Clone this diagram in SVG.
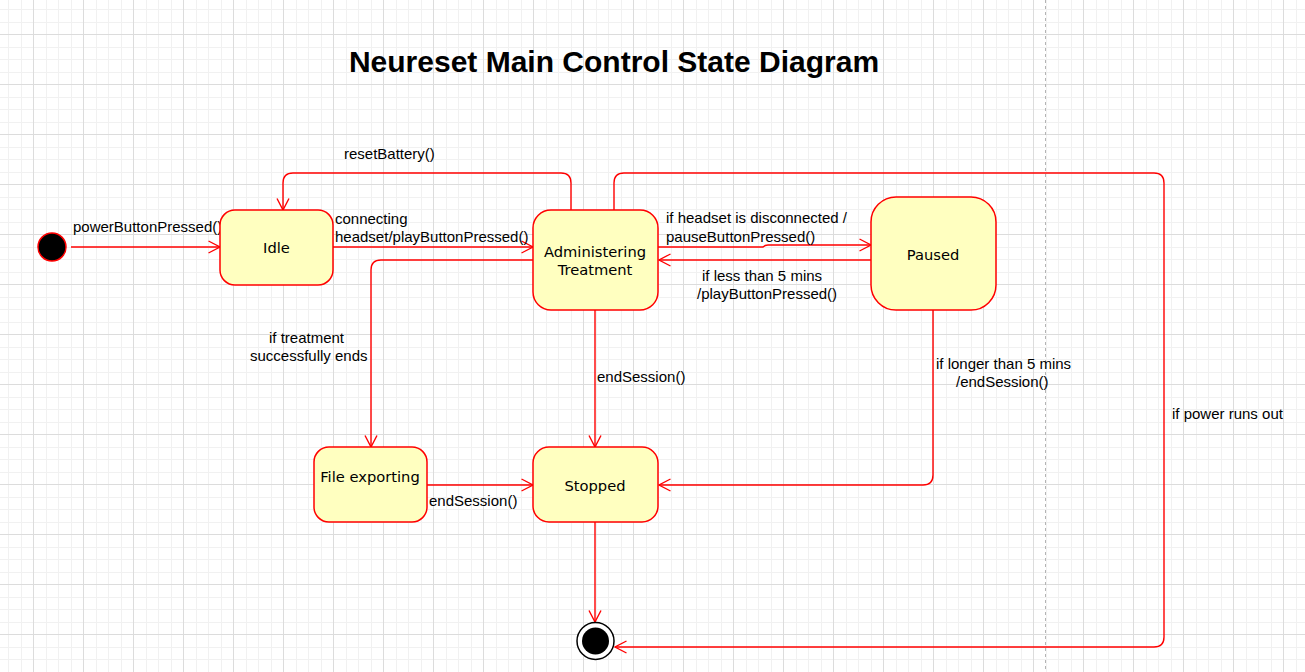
<svg xmlns="http://www.w3.org/2000/svg" width="1305" height="672" viewBox="0 0 1305 672">
<defs>
<pattern id="grid" x="33" y="34" width="50" height="50" patternUnits="userSpaceOnUse">
<rect x="13" y="0" width="1" height="50" fill="#f1f1f1"/>
<rect x="25" y="0" width="1" height="50" fill="#f1f1f1"/>
<rect x="38" y="0" width="1" height="50" fill="#f1f1f1"/>
<rect x="0" y="13" width="50" height="1" fill="#f1f1f1"/>
<rect x="0" y="25" width="50" height="1" fill="#f1f1f1"/>
<rect x="0" y="38" width="50" height="1" fill="#f1f1f1"/>
<rect x="0" y="0" width="1" height="50" fill="#dcdcdc"/>
<rect x="0" y="0" width="50" height="1" fill="#dcdcdc"/>
</pattern>
<marker id="open" markerUnits="userSpaceOnUse" markerWidth="14" markerHeight="14" viewBox="0 0 14 14" refX="12.5" refY="7" orient="auto">
<path d="M1,1 L12.5,7 L1,13" fill="none" stroke="#ff0000" stroke-width="1.4"/>
</marker>
</defs>
<style>
.state{fill:#ffffc0;stroke:#ff0000;stroke-width:1.5}
.sl{font-family:"DejaVu Sans",Verdana,sans-serif;font-size:14.7px;fill:#000;text-anchor:middle}
.el{font-family:"Liberation Sans",Arial,sans-serif;font-size:15px;fill:#000}
.edge{fill:none;stroke:#ff0000;stroke-width:1.4;marker-end:url(#open)}
</style>
<rect width="1305" height="672" fill="#ffffff"/>
<rect width="1305" height="672" fill="url(#grid)"/>
<line x1="1045.5" y1="0" x2="1045.5" y2="672" stroke="#b4b4b4" stroke-width="1" stroke-dasharray="3 3"/>
<text x="614" y="72" font-family="'Liberation Sans',Arial,sans-serif" font-size="30" font-weight="bold" text-anchor="middle" fill="#000">Neureset Main Control State Diagram</text>
<g id="connectors">
<path class="edge" d="M71,247 H220"/>
<path class="edge" d="M333,247 H533"/>
<path class="edge" d="M571,210 V183 Q571,173 561,173 H293 Q283,173 283,183 V210"/>
<path class="edge" d="M614,210 V183 Q614,173 624,173 H1154 Q1164,173 1164,183 V637 Q1164,647 1154,647 H615"/>
<path class="edge" d="M658,247 H763 Q765,245 768,245 H871"/>
<path class="edge" d="M878,260 H659"/>
<path class="edge" d="M533,260 H381 Q371,260 371,270 V447"/>
<path class="edge" d="M595,310 V447"/>
<path class="edge" d="M933,310 V475 Q933,485 923,485 H659"/>
<path class="edge" d="M427,485 H533"/>
<path class="edge" d="M595,522 V622"/>
<text class="el" x="73" y="232">powerButtonPressed()</text>
<text class="el" x="335" y="224">connecting</text>
<text class="el" x="335" y="242">headset/playButtonPressed()</text>
<text class="el" x="344" y="159">resetBattery()</text>
<text class="el" x="666" y="223">if headset is disconnected /</text>
<text class="el" x="666" y="242">pauseButtonPressed()</text>
<text class="el" x="702" y="281">if less than 5 mins</text>
<text class="el" x="697" y="299">/playButtonPressed()</text>
<text class="el" x="269" y="343">if treatment</text>
<text class="el" x="250" y="361">successfully ends</text>
<text class="el" x="597" y="382">endSession()</text>
<text class="el" x="936" y="369">if longer than 5 mins</text>
<text class="el" x="956" y="387">/endSession()</text>
<text class="el" x="1172" y="419">if power runs out</text>
<text class="el" x="429" y="506">endSession()</text>
</g>
<g id="initial">
<circle cx="52" cy="247" r="14" fill="#000" stroke="#ff0000" stroke-width="1.5"/>
</g>
<g id="idle">
<rect class="state" x="220" y="210" width="113" height="75" rx="15"/>
<text class="sl" x="276.5" y="253">Idle</text>
</g>
<g id="administering">
<rect class="state" x="533" y="210" width="125" height="100" rx="18"/>
<text class="sl" x="595" y="257">Administering</text>
<text class="sl" x="595" y="274.5">Treatment</text>
</g>
<g id="paused">
<rect class="state" x="871" y="197" width="125" height="113" rx="25"/>
<text class="sl" x="933" y="260">Paused</text>
</g>
<g id="file-exporting">
<rect class="state" x="314" y="447" width="113" height="75" rx="15"/>
<text class="sl" x="370" y="482">File exporting</text>
</g>
<g id="stopped">
<rect class="state" x="533" y="447" width="125" height="75" rx="16"/>
<text class="sl" x="595" y="491">Stopped</text>
</g>
<g id="final">
<circle cx="595.5" cy="641" r="18.5" fill="#ffffff" stroke="#000" stroke-width="1.5"/>
<circle cx="595.5" cy="641" r="13.5" fill="#000"/>
</g>
</svg>
